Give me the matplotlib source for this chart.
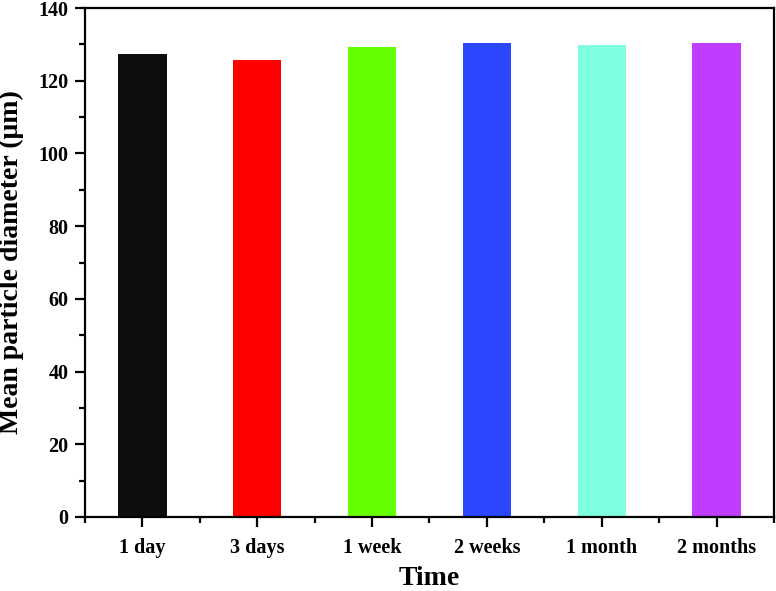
import numpy as np
import matplotlib
matplotlib.use('Agg')
import matplotlib.pyplot as plt
from matplotlib.ticker import MultipleLocator

# data
categories = ['1 day', '3 days', '1 week', '2 weeks', '1 month', '2 months']
diameters = [127.4, 125.6, 129.3, 130.3, 129.7, 130.3]
bar_colors = ['#0d0d0d', '#ff0000', '#66ff00', '#2b46ff', '#80ffe0', '#c03cff']

plt.rcParams['font.family'] = ['Liberation Serif', 'DejaVu Serif']
plt.rcParams['font.weight'] = 'bold'

fig = plt.figure(figsize=(7.76, 5.91), dpi=100)
ax = fig.add_axes([85/776, 74/591, 689/776, 509/591])

x = np.arange(1, len(categories) + 1)
ax.bar(x, diameters, width=0.42, color=bar_colors)

ax.set_xlim(0.5, len(categories) + 0.5)
ax.set_ylim(0, 140)
ax.set_xticks(x)
ax.set_xticklabels(categories)
ax.xaxis.set_minor_locator(MultipleLocator(1, offset=0.5))
ax.yaxis.set_major_locator(MultipleLocator(20))
ax.yaxis.set_minor_locator(MultipleLocator(10))

for sp in ax.spines.values():
    sp.set_linewidth(1.6)
ax.tick_params(which='major', direction='out', length=7, width=1.6,
               labelsize=14.5, pad=5)
ax.tick_params(which='minor', direction='out', length=4, width=1.6)
ax.tick_params(axis='x', which='major', pad=8)
for lab in ax.get_xticklabels() + ax.get_yticklabels():
    lab.set_fontweight('bold')

ax.set_xlabel('Time', fontsize=20, fontweight='bold', labelpad=6)
ax.set_ylabel('Mean particle diameter (\u03bcm)', fontsize=20, fontweight='bold', labelpad=10)

fig.savefig('out.png', dpi=100)
